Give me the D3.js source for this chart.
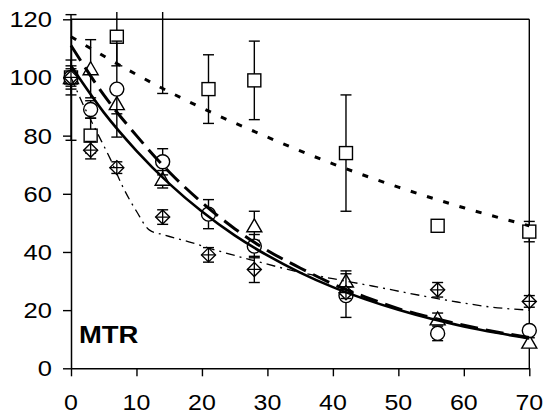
<!DOCTYPE html>
<html><head><meta charset="utf-8">
<script src="https://cdn.jsdelivr.net/npm/d3@7/dist/d3.min.js"></script>
<style>body{margin:0;background:#fff}svg{display:block}</style>
</head><body>
<svg id="c" width="545" height="416"></svg>
<script>
// ---- data ----
const days = [0, 3, 7, 14, 21, 28, 42, 56, 70];
const squareMean = [100, 80, 114, 135, 96, 99, 74, 49, 47];
const squareErr  = [21.6, 6, 10, 40.5, 11.8, 13.5, 20, 0, 3.5];
const triMean    = [100, 103, 91, 65, null, 49, 30, 17, 9];
const triErr     = [4, 10, 3.5, 3, 0, 5, 3.5, 2, 1.5];
const circleMean = [100, 89, 96, 71, 53, 42, 25, 12, 13];
const circleErr  = [6, 3, 16.5, 4.5, 5, 4, 7.5, 2.5, 1.5];
const diaMean    = [100, 75, 69, 52, 39, 34, 26, 27, 23];
const diaErr     = [3, 3, 2, 2.5, 2.5, 4.5, 2, 2.5, 2];

const fitX       = [0, 5, 10, 15, 20, 25, 30, 35, 40, 45, 50, 55, 60, 65, 70];
const solidFit   = [104, 88, 74.8, 63.5, 53.9, 45.7, 38.8, 32.9, 27.9, 23.7, 20.1, 17.0, 14.4, 12.2, 10.3];
const dashedFit  = [111, 94, 80, 67.5, 57, 48, 40.5, 34.5, 29, 24.5, 20.5, 17.5, 14.8, 12.5, 10.6];
const sqFitX     = [0, 10, 20, 30, 40, 50, 60, 70];
const squareFit  = [114, 101, 89.5, 79.5, 70.3, 62.3, 55.2, 49];
const ddX        = [0, 2, 4, 6, 8, 10, 12, 14, 18, 22, 28, 35, 40, 46, 53, 59, 64, 70];
const dashDotFit = [100, 90, 81, 72, 62, 54, 47.5, 46, 43.5, 40.7, 37, 33, 30.8, 28.3, 25.2, 22.8, 21.1, 20];

const xTicks = [0, 10, 20, 30, 40, 50, 60, 70];
const yTicks = [0, 20, 40, 60, 80, 100, 120];
const panelLabel = "MTR";

// ---- drawing ----
const svg = d3.select("#c");
const x = d3.scaleLinear().domain([0, 70]).range([71, 529.3]);
const y = d3.scaleLinear().domain([0, 120]).range([368.3, 19.3]);
const font = "'Liberation Sans', Arial, sans-serif";

svg.append("rect").attr("width", 545).attr("height", 416).attr("fill", "#fff");

// frame (top and right)
svg.append("line").attr("x1", x(0)).attr("x2", x(70)).attr("y1", y(120)).attr("y2", y(120))
  .attr("stroke", "#000").attr("stroke-width", 1.4);
svg.append("line").attr("x1", x(70)).attr("x2", x(70)).attr("y1", y(120)).attr("y2", y(0))
  .attr("stroke", "#000").attr("stroke-width", 1.4);

// axes
const xAxis = svg.append("g").attr("transform", `translate(0,${y(0)})`)
  .call(d3.axisBottom(x).tickValues(xTicks).tickSize(8).tickSizeOuter(0).tickFormat(""));
const yAxis = svg.append("g").attr("transform", `translate(${x(0)},0)`)
  .call(d3.axisLeft(y).tickValues(yTicks).tickSize(8).tickSizeOuter(0).tickFormat(""));
[xAxis, yAxis].forEach(g => {
  g.selectAll("path.domain").attr("stroke", "#000").attr("stroke-width", 1.5);
  g.selectAll(".tick line").attr("stroke", "#000").attr("stroke-width", 1.4);
});

// tick labels (slightly wide text like the original)
svg.append("g").selectAll("text").data(yTicks).join("text")
  .attr("transform", d => `translate(52,${y(d) + 8}) scale(1.16,1)`)
  .attr("text-anchor", "end").attr("font-family", font).attr("font-size", 22)
  .attr("fill", "#000").text(d => d);
svg.append("g").selectAll("text").data(xTicks).join("text")
  .attr("transform", d => `translate(${x(d)},410) scale(1.16,1)`)
  .attr("text-anchor", "middle").attr("font-family", font).attr("font-size", 21.5)
  .attr("fill", "#000").text(d => d);

svg.append("text").attr("transform", "translate(79,343) scale(1.12,1)")
  .attr("font-family", font).attr("font-weight", "bold").attr("font-size", 24.5)
  .attr("fill", "#000").text(panelLabel);

// clip region
svg.append("clipPath").attr("id", "clip").append("rect")
  .attr("x", 0).attr("y", 12).attr("width", 545).attr("height", 404);
const data = svg.append("g").attr("clip-path", "url(#clip)");

function series(mean, err, shape) {
  const pts = days.map((d, i) => ({d, m: mean[i], e: err[i]})).filter(p => p.m != null);
  const g = data.append("g");
  // error bars
  pts.filter(p => p.e > 0).forEach(p => {
    const cx = x(p.d), cap = 5.5;
    g.append("line").attr("x1", cx).attr("x2", cx).attr("y1", y(p.m + p.e)).attr("y2", y(p.m - p.e))
      .attr("stroke", "#000").attr("stroke-width", 1.4);
    [p.m + p.e, p.m - p.e].forEach(v => {
      g.append("line").attr("x1", cx - cap).attr("x2", cx + cap).attr("y1", y(v)).attr("y2", y(v))
        .attr("stroke", "#000").attr("stroke-width", 1.4);
    });
  });
  // markers
  pts.forEach(p => {
    const cx = x(p.d), cy = y(p.m);
    const st = sel => sel.attr("fill", "#fff").attr("stroke", "#000").attr("stroke-width", 1.4);
    if (shape === "square") {
      st(g.append("rect").attr("x", cx - 6.5).attr("y", cy - 6.5).attr("width", 13).attr("height", 13));
    } else if (shape === "circle") {
      st(g.append("circle").attr("cx", cx).attr("cy", cy).attr("r", 7));
    } else if (shape === "triangle") {
      st(g.append("path").attr("d", `M${cx},${cy - 7}L${cx + 7.5},${cy + 6}L${cx - 7.5},${cy + 6}Z`));
    } else {
      st(g.append("path").attr("d", `M${cx},${cy - 7}L${cx + 7},${cy}L${cx},${cy + 7}L${cx - 7},${cy}Z`));
      g.append("path").attr("d", `M${cx - 7},${cy}H${cx + 7}M${cx},${cy - 7}V${cy + 7}`)
        .attr("stroke", "#000").attr("stroke-width", 1.3).attr("fill", "none");
    }
  });
}
series(squareMean, squareErr, "square");
series(triMean, triErr, "triangle");
series(circleMean, circleErr, "circle");
series(diaMean, diaErr, "diamond");

// fitted curves
function curve(xs, ys, width, dash) {
  const line = d3.line().x((d, i) => x(xs[i])).y(d => y(d)).curve(d3.curveMonotoneX);
  data.append("path").attr("d", line(ys)).attr("fill", "none").attr("stroke", "#000")
    .attr("stroke-width", width).attr("stroke-dasharray", dash);
}
curve(sqFitX, squareFit, 3, "6,11");
curve(ddX, dashDotFit, 1.3, "9,5,2,5");
curve(fitX, dashedFit, 3, "18,8");
curve(fitX, solidFit, 2.6, null);
</script>
</body></html>
